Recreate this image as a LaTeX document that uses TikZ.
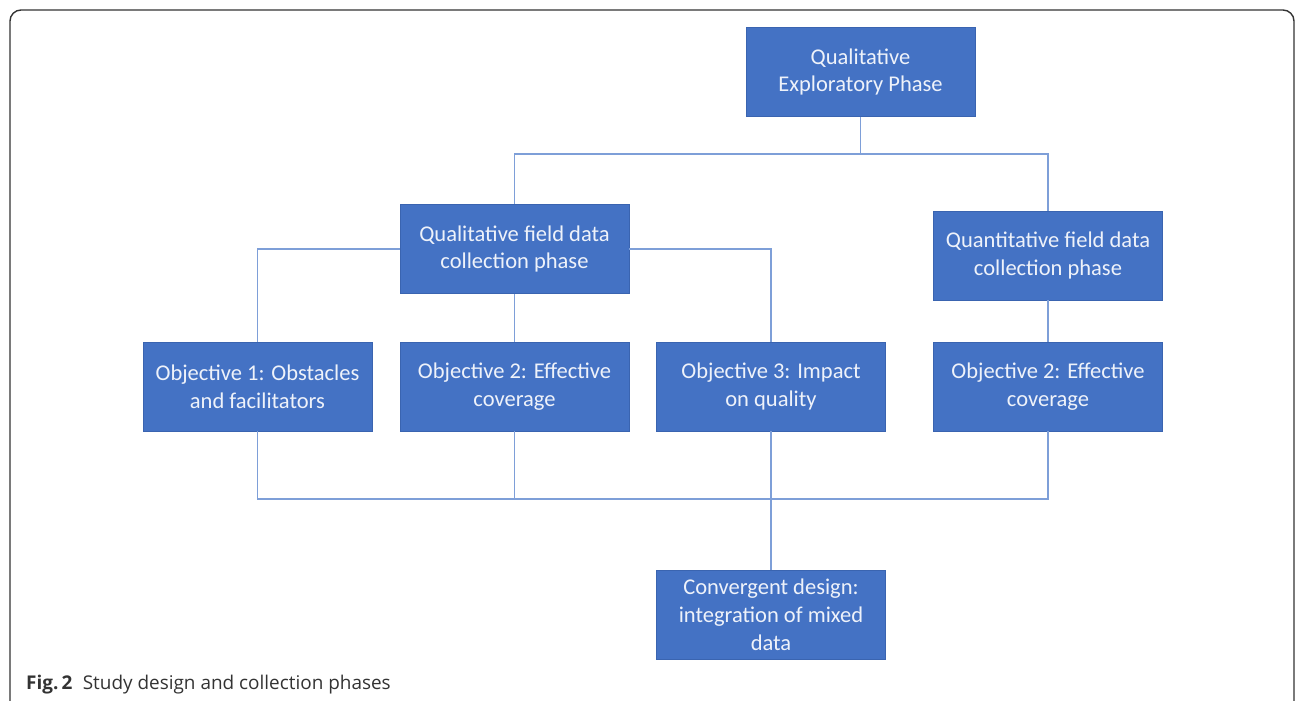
\documentclass[tikz,border=0pt]{standalone}
\usepackage{fontspec}
\setmainfont{Carlito}
\newfontfamily\capfont{Open Sans}
\definecolor{boxblue}{HTML}{4472C4}
\definecolor{boxedge}{HTML}{3A64B0}
\definecolor{linkblue}{HTML}{7E9FD8}
\definecolor{boxtext}{HTML}{EEF2FA}
\definecolor{framegray}{HTML}{333333}
\begin{document}
\begin{tikzpicture}[x=1bp,y=-1bp,
  phasebox/.style={draw=boxedge,line width=0.8bp,fill=boxblue,text=boxtext,
    minimum width=229bp,minimum height=89bp,inner sep=0pt,align=center,
    font=\fontsize{22.6}{28}\selectfont},
  conn/.style={draw=linkblue,line width=1.3bp}]
\useasboundingbox (0,0) rectangle (1296,701);
\begin{scope}
\clip (0,0) rectangle (1296,701);
\draw[framegray,line width=1.4bp,rounded corners=11bp] (10,10) rectangle (1294,714);
\end{scope}
\node[phasebox] (ex) at (860.5,72) {Qualitative\\Exploratory Phase};
\node[phasebox] (qf) at (514.5,249) {Qualitative field data\\collection phase};
\node[phasebox] (qn) at (1048,255.5) {Quantitative field data\\collection phase};
\node[phasebox] (o1) at (257.5,386.5) {Objective 1: Obstacles\\and facilitators};
\node[phasebox] (o2) at (514.5,386.5) {Objective 2: Effective\\coverage};
\node[phasebox] (o3) at (771,386.5) {Objective 3: Impact\\on quality};
\node[phasebox] (o4) at (1048,386.5) {Objective 2: Effective\\coverage};
\node[phasebox] (cv) at (771,614.5) {Convergent design:\\integration of mixed\\data};
\coordinate (top) at (860.5,154);
\coordinate (bot) at (771,499);
\draw[conn] (ex.south) -- (top);
\draw[conn] (top) -| (qf.north);
\draw[conn] (top) -| (qn.north);
\draw[conn] (qf.west) -| (o1.north);
\draw[conn] (qf.east) -| (o3.north);
\draw[conn] (qf.south) -- (o2.north);
\draw[conn] (qn.south) -- (o4.north);
\draw[conn] (o1.south) |- (bot);
\draw[conn] (o4.south) |- (bot);
\draw[conn] (o2.south) -- (o2.south |- bot);
\draw[conn] (o3.south) -- (cv.north);
\node[anchor=base west,inner sep=0pt,text=framegray,font=\capfont\fontsize{19}{22}\selectfont] (cap) at (26,689)
  {\textbf{Fig.\,2}\hspace{0.55em}Study design and collection phases};
\end{tikzpicture}
\end{document}
